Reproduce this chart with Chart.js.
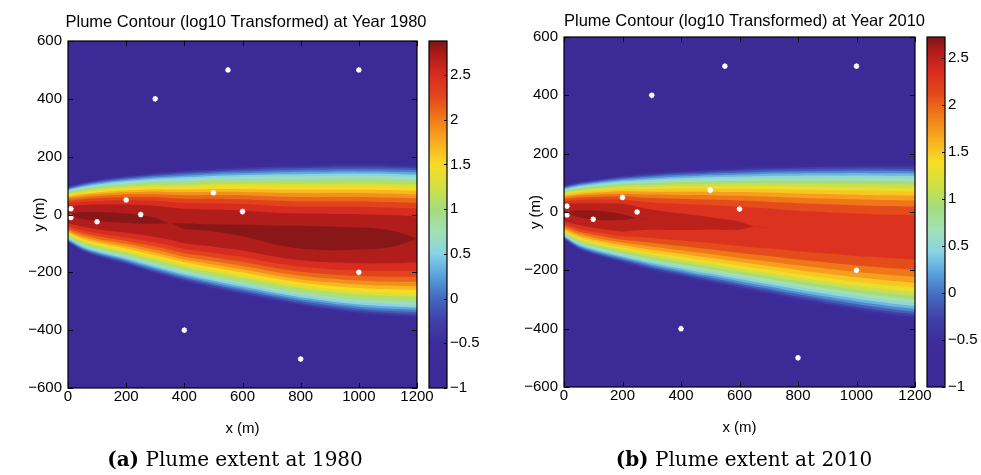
<!DOCTYPE html>
<html>
<head>
<meta charset="utf-8">
<script src="https://cdn.jsdelivr.net/npm/chart.js@4.4.1/dist/chart.umd.min.js"></script>
<style>
  html, body { margin: 0; padding: 0; background: #fff; width: 981px; height: 475px; overflow: hidden; }
  .box { position: absolute; top: 0; }
  .cap { position: absolute; top: 448px; line-height: 22px; font-family: "DejaVu Serif", serif; font-size: 20px;
         color: #000; white-space: nowrap; transform: translateX(-50%); }
</style>
</head>
<body>
<div class="box" style="left:0px"><canvas id="plotA" width="492" height="475"></canvas></div>
<div class="box" style="left:425px"><canvas id="barA" width="60" height="475"></canvas></div>
<div class="box" style="left:496px"><canvas id="plotB" width="497" height="475"></canvas></div>
<div class="box" style="left:923px"><canvas id="barB" width="58" height="475"></canvas></div>
<div class="cap" style="left:235px"><b>(a)</b> Plume extent at 1980</div>
<div class="cap" style="left:744px"><b>(b)</b> Plume extent at 2010</div>

<script>
// sample positions along the plume axis (m)
const XS = [0, 50, 100, 150, 200, 250, 300, 350, 400, 450, 500, 550, 600, 650, 700, 750, 800, 850, 900, 950, 1000, 1050, 1100, 1150, 1200];
// contour levels (log10)
const LEVELS = [-1, -0.8, -0.6, -0.4, -0.2, 0, 0.2, 0.4, 0.6, 0.8, 1, 1.2, 1.4, 1.6, 1.8, 2, 2.2, 2.4, 2.6, 2.8];
// the edge arrays below trace this (first visible) contour
const EDGE_LEVEL = -0.4;
// shape of the cross-plume profile
const PROFILE_EXP = 0.42;

// year 1980: upper / lower plume edge, centre line and peak log10 value
const TOP_1980 = [96, 109, 118, 126, 132, 137, 142, 146, 150, 153, 156, 159, 161, 163, 165, 166, 167, 168, 169, 170, 170, 170, 169, 168, 167];
const BOT_1980 = [-96, -126, -144, -158, -171, -187, -202, -216, -229, -241, -253, -264, -274, -284, -294, -303, -312, -320, -327, -334, -340, -344, -347, -350, -352];
const MID_1980 = [0, -3, -6, -9, -12, -16, -21, -30, -40, -43, -46, -50, -55, -62, -70, -76, -80, -82, -83, -83, -83, -83, -83, -83, -83];
const PEAK_1980 = [2.795, 2.815, 2.82, 2.82, 2.815, 2.81, 2.804, 2.795, 2.803, 2.803, 2.804, 2.806, 2.81, 2.818, 2.828, 2.838, 2.845, 2.845, 2.845, 2.84, 2.835, 2.83, 2.82, 2.806, 2.79];
const CLIM_1980 = [-1, 2.88];

// year 2010
const TOP_2010 = [89, 101, 109, 116, 122, 127, 131, 135, 138, 140, 143, 145, 147, 149, 151, 152, 153, 154, 155, 155, 156, 156, 156, 156, 155];
const BOT_2010 = [-93, -126, -144, -158, -171, -184, -197, -208, -218, -229, -238, -248, -258, -268, -277, -287, -297, -306, -315, -324, -332, -340, -347, -354, -360];
const MID_2010 = [-2, -5, -9, -13, -17, -21, -25, -29, -32, -35, -38, -42, -46, -50, -54, -58, -62, -65, -68, -71, -74, -76, -78, -79, -80];
const PEAK_2010 = [2.595, 2.615, 2.62, 2.615, 2.605, 2.52, 2.47, 2.45, 2.435, 2.425, 2.415, 2.41, 2.405, 2.398, 2.385, 2.375, 2.37, 2.365, 2.36, 2.355, 2.355, 2.35, 2.35, 2.35, 2.35];
const CLIM_2010 = [-1, 2.72];

// monitoring wells
const WELL_X = [10, 10, 100, 200, 250, 300, 400, 500, 550, 600, 800, 1000, 1000];
const WELL_Y = [20, -10, -25, 50, 0, 400, -400, 75, 500, 10, -500, 500, -200];

const COLORBAR_TICKS = [-1, -0.5, 0, 0.5, 1, 1.5, 2, 2.5];

// colour map (fraction of colour range -> colour)
const CMAP = [
  [0, '#3c2a96'], [0.129, '#3e2c9c'], [0.193, '#4040a8'], [0.258, '#4468bc'],
  [0.322, '#58a0dc'], [0.387, '#88d4e4'], [0.451, '#a4e0b4'], [0.515, '#a4dc7c'],
  [0.58, '#d4e040'], [0.644, '#f8dc24'], [0.709, '#f8ac20'], [0.773, '#f07c18'],
  [0.838, '#e4481c'], [0.902, '#d82c20'], [0.966, '#a81a18'], [1, '#7c1616']
];

Chart.defaults.font.family = '"Liberation Sans", Arial, sans-serif';
Chart.defaults.font.size = 15;
Chart.defaults.color = '#000';

function hex(c) { return [1, 3, 5].map(i => parseInt(c.slice(i, i + 2), 16)); }
function cmap(f) {
  f = Math.min(1, Math.max(0, f));
  for (let i = 1; i < CMAP.length; i++) {
    if (f <= CMAP[i][0]) {
      const [f0, c0] = CMAP[i - 1], [f1, c1] = CMAP[i];
      const t = (f - f0) / (f1 - f0);
      const a = hex(c0), b = hex(c1);
      return 'rgb(' + a.map((v, j) => Math.round(v + (b[j] - v) * t)).join(',') + ')';
    }
  }
  return CMAP[CMAP.length - 1][1];
}
function bandColor(k, clim) {
  const lo = LEVELS[k];
  const hi = Math.min(k + 1 < LEVELS.length ? LEVELS[k + 1] : clim[1], clim[1]);
  return cmap(((lo + hi) / 2 - clim[0]) / (clim[1] - clim[0]));
}
const fmt = v => { v = Math.round(v * 10) / 10; return (v < 0 ? '\u2212' : '') + Math.abs(v); };

// background, frame and inward tick marks
const framePlugin = {
  id: 'frame',
  beforeDatasetsDraw(chart, args, o) {
    if (!o.bg) return;
    const { ctx, chartArea: a } = chart;
    ctx.save();
    ctx.fillStyle = o.bg;
    ctx.fillRect(a.left, a.top, a.right - a.left, a.bottom - a.top);
    ctx.restore();
  },
  afterDraw(chart, args, o) {
    const { ctx, chartArea: a } = chart;
    ctx.save();
    ctx.strokeStyle = '#000';
    ctx.lineWidth = 1;
    ctx.beginPath();
    ['x', 'y'].forEach(id => {
      const s = chart.scales[id];
      if (!s || !s.options.display) return;
      s.ticks.forEach(t => {
        const p = Math.round(s.getPixelForValue(t.value)) + 0.5;
        if (s.isHorizontal()) {
          ctx.moveTo(p, a.bottom); ctx.lineTo(p, a.bottom - o.tick);
          ctx.moveTo(p, a.top); ctx.lineTo(p, a.top + o.tick);
        } else {
          if (o.both) { ctx.moveTo(a.left, p); ctx.lineTo(a.left + o.tick, p); }
          ctx.moveTo(a.right, p); ctx.lineTo(a.right - o.tick, p);
        }
      });
    });
    ctx.stroke();
    ctx.lineWidth = 1.2;
    ctx.strokeRect(a.left, a.top, a.right - a.left, a.bottom - a.top);
    ctx.restore();
  }
};

function plume(id, title, top, bot, mid, peak, clim, lay) {
  const datasets = [];
  for (let k = 1; k < LEVELS.length; k++) {
    const lv = LEVELS[k];
    if (lv >= clim[1]) break;
    const up = [], lo = [];
    XS.forEach((x, i) => {
      const r = peak[i] > lv ? Math.pow((peak[i] - lv) / (peak[i] - EDGE_LEVEL), PROFILE_EXP) : 0;
      up.push({ x: x, y: mid[i] + (top[i] - mid[i]) * r });
      lo.push({ x: x, y: mid[i] - (mid[i] - bot[i]) * r });
    });
    const common = { order: 100 - k, borderWidth: 0, borderColor: 'rgba(0,0,0,0)', pointRadius: 0, cubicInterpolationMode: 'monotone' };
    datasets.push(Object.assign({ data: up, fill: false }, common));
    datasets.push(Object.assign({ data: lo, fill: '-1', backgroundColor: bandColor(k, clim) }, common));
  }
  datasets.push({
    type: 'scatter', order: 0,
    data: WELL_X.map((x, i) => ({ x: x, y: WELL_Y[i] })),
    pointStyle: 'star', pointRadius: 2.8, pointBorderColor: '#fff', pointBorderWidth: 1.5, pointBackgroundColor: '#fff'
  });

  return new Chart(document.getElementById(id), {
    type: 'line',
    data: { datasets: datasets },
    plugins: [framePlugin],
    options: {
      responsive: false,
      animation: false,
      layout: { padding: { left: 0, right: 0, top: 0, bottom: lay.bottom } },
      plugins: {
        legend: { display: false },
        tooltip: { enabled: false },
        title: { display: true, text: title, color: '#000', font: { size: 16.5, weight: 'normal' }, padding: lay.title },
        frame: { bg: bandColor(0, clim), tick: 5, both: true }
      },
      scales: {
        x: {
          type: 'linear', min: 0, max: 1200,
          ticks: { stepSize: 200, padding: 0, maxRotation: 0, color: '#000', callback: fmt },
          grid: { display: false, drawTicks: false },
          border: { display: false },
          title: { display: true, text: 'x (m)', color: '#000', padding: { top: 0, bottom: 2 } },
          afterFit(s) { s.height = 52; }
        },
        y: {
          type: 'linear', min: -600, max: 600,
          ticks: { stepSize: 200, padding: 6, color: '#000', callback: fmt },
          grid: { display: false, drawTicks: false },
          border: { display: false },
          title: { display: true, text: 'y (m)', color: '#000', padding: { top: 31, bottom: 0 } },
          afterFit(s) { s.width = 68; }
        },
        // empty right-hand axis keeps room for the colour bar
        yR: {
          type: 'linear', position: 'right', min: 0, max: 1,
          ticks: { display: false },
          grid: { display: false, drawTicks: false },
          border: { display: false },
          afterFit(s) { s.width = lay.right; }
        }
      }
    }
  });
}

function colorbar(id, clim, lay) {
  return new Chart(document.getElementById(id), {
    type: 'bar',
    data: {
      labels: [''],
      datasets: [{
        data: [[clim[0], clim[1]]],
        barPercentage: 1, categoryPercentage: 1, borderWidth: 0,
        backgroundColor(c) {
          const a = c.chart.chartArea;
          if (!a) return CMAP[0][1];
          const g = c.chart.ctx.createLinearGradient(0, a.bottom, 0, a.top);
          CMAP.forEach(s => g.addColorStop(s[0], s[1]));
          return g;
        }
      }]
    },
    plugins: [framePlugin],
    options: {
      responsive: false,
      animation: false,
      layout: { padding: { left: 4, right: 0, top: lay.top, bottom: lay.bottom } },
      plugins: { legend: { display: false }, tooltip: { enabled: false }, frame: { tick: 3, both: false } },
      scales: {
        x: { display: false },
        y: {
          position: 'right', min: clim[0], max: clim[1],
          afterBuildTicks(s) { s.ticks = COLORBAR_TICKS.map(v => ({ value: v })); },
          ticks: { padding: 3, color: '#000', callback: fmt },
          grid: { display: false, drawTicks: false },
          border: { display: false },
          afterFit(s) { s.width = lay.axis; }
        }
      }
    }
  });
}

plume('plotA', 'Plume Contour (log10 Transformed) at Year 1980', TOP_1980, BOT_1980, MID_1980, PEAK_1980, CLIM_1980,
  { right: 75, bottom: 35, title: { top: 12.6, bottom: 8.6 } });
plume('plotB', 'Plume Contour (log10 Transformed) at Year 2010', TOP_2010, BOT_2010, MID_2010, PEAK_2010, CLIM_2010,
  { right: 78, bottom: 36, title: { top: 11.1, bottom: 6.1 } });
colorbar('barA', CLIM_1980, { top: 41, bottom: 87, axis: 38 });
colorbar('barB', CLIM_2010, { top: 37, bottom: 88, axis: 36 });
</script>
</body>
</html>
